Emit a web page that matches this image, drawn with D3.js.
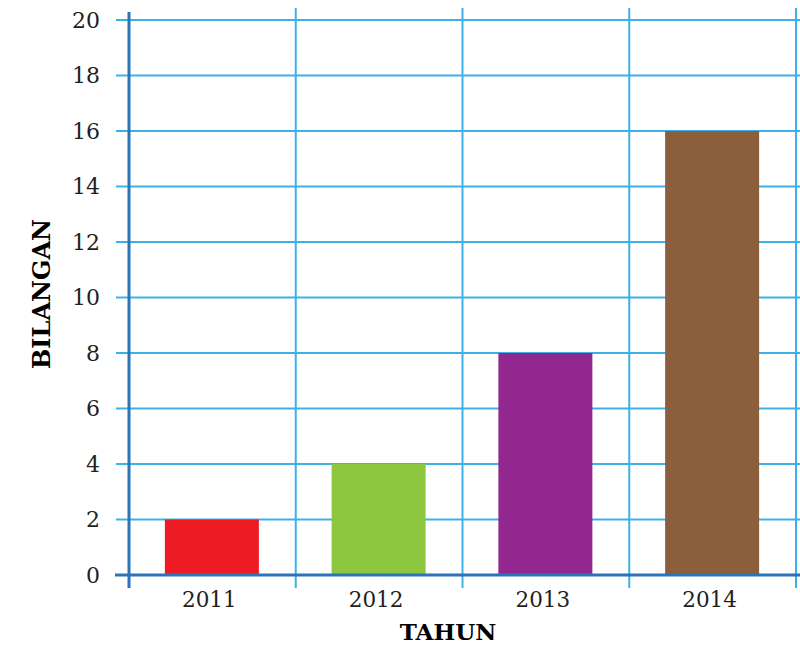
<!DOCTYPE html>
<html><head><meta charset="utf-8">
<script src="https://cdn.jsdelivr.net/npm/d3@7"></script>
<style>body{margin:0;background:#fff}svg{display:block}</style>
</head><body>
<svg id="c" width="800" height="645"></svg>
<script>
const categories = ["2011","2012","2013","2014"];
const values = [2,4,8,16];
const colors = ["#ed1c24","#8dc63f","#92278f","#8b5e3c"];
const yTicks = [0,2,4,6,8,10,12,14,16,18,20];

const svg = d3.select("#c");
const L = 129, R = 796, T = 20, B = 575;
const x = d3.scaleBand().domain(categories).range([L, R]).paddingInner(0).paddingOuter(0);
const y = d3.scaleLinear().domain([0,20]).range([B, T]);
const font = "'DejaVu Serif', serif";
const grid = "#3cb1e9";

// horizontal gridlines
svg.append("g").selectAll("line").data(yTicks.filter(d=>d>0)).join("line")
  .attr("x1", 116).attr("x2", 800)
  .attr("y1", d=>y(d)).attr("y2", d=>y(d))
  .attr("stroke", grid).attr("stroke-width", 2);

// vertical gridlines (band boundaries)
const bounds = categories.slice(1).map(c=>x(c)).concat([x(categories[categories.length-1])+x.bandwidth()]);
svg.append("g").selectAll("line").data(bounds).join("line")
  .attr("x1", d=>d).attr("x2", d=>d).attr("y1", 8).attr("y2", 588)
  .attr("stroke", grid).attr("stroke-width", 2);

// bars
const bw = 94;
svg.append("g").selectAll("rect").data(values).join("rect")
  .attr("x", (d,i)=>x(categories[i]) + x.bandwidth()/2 - bw/2 - 0.5)
  .attr("width", bw)
  .attr("y", d=>y(d)).attr("height", d=>y(0)-y(d))
  .attr("fill", (d,i)=>colors[i]);

// axes lines
svg.append("line").attr("x1", L).attr("x2", L).attr("y1", 12).attr("y2", 588)
  .attr("stroke", "#2a74ba").attr("stroke-width", 3);
svg.append("line").attr("x1", 115).attr("x2", 800).attr("y1", B).attr("y2", B)
  .attr("stroke", "#2a74ba").attr("stroke-width", 3);

// y tick labels
svg.append("g").selectAll("text").data(yTicks).join("text")
  .attr("x", 100).attr("y", d=>y(d)).attr("dy", "0.36em")
  .attr("text-anchor", "end").attr("font-family", font).attr("font-size", 22)
  .attr("fill", "#231f20").text(d=>d);

// x tick labels
svg.append("g").selectAll("text").data(categories).join("text")
  .attr("x", d=>x(d)+x.bandwidth()/2 - 3).attr("y", 607)
  .attr("text-anchor", "middle").attr("font-family", font).attr("font-size", 21.5)
  .attr("fill", "#231f20").text(d=>d);

// axis titles
svg.append("text").attr("x", 448).attr("y", 640).attr("text-anchor", "middle")
  .attr("font-family", font).attr("font-weight", "bold").attr("font-size", 23)
  .attr("fill", "#000").text("TAHUN");
svg.append("text").attr("transform", "translate(50,294) rotate(-90)").attr("text-anchor", "middle")
  .attr("font-family", font).attr("font-weight", "bold").attr("font-size", 24)
  .attr("fill", "#000").text("BILANGAN");
</script>
</body></html>
